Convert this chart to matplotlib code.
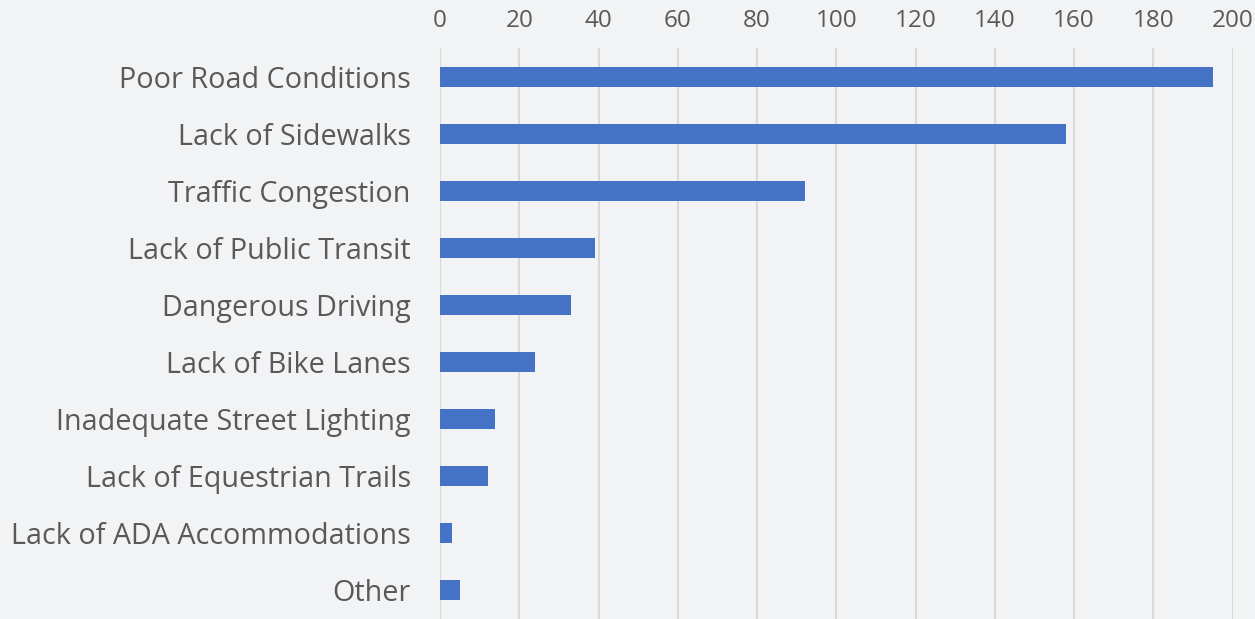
import matplotlib.pyplot as plt

categories = [
    "Poor Road Conditions",
    "Lack of Sidewalks",
    "Traffic Congestion",
    "Lack of Public Transit",
    "Dangerous Driving",
    "Lack of Bike Lanes",
    "Inadequate Street Lighting",
    "Lack of Equestrian Trails",
    "Lack of ADA Accommodations",
    "Other",
]
counts = [195, 158, 92, 39, 33, 24, 14, 12, 3, 5]
xticks = list(range(0, 201, 20))

bg = "#F2F3F5"
text_color = "#595959"

plt.rcParams["font.family"] = ["Open Sans", "DejaVu Sans"]

fig = plt.figure(figsize=(12.55, 6.19), dpi=100, facecolor=bg)
ax = fig.add_axes([440 / 1255, 0, (1232.5 - 440) / 1255, (619 - 48) / 619])
ax.set_facecolor(bg)

ypos = range(len(categories))
ax.barh(ypos, counts, height=0.35, color="#4472C4", zorder=3)

ax.set_ylim(len(categories) - 0.5, -0.5)
ax.set_xlim(0, 200)
ax.set_xticks(xticks)
ax.set_yticks(list(ypos))
ax.set_yticklabels(categories)

ax.xaxis.tick_top()
ax.tick_params(axis="x", length=0, pad=11, labelsize=17.5, labelcolor=text_color)
ax.tick_params(axis="y", length=0, pad=21, labelsize=20.7, labelcolor=text_color)

ax.grid(axis="x", color="#D9D9D9", linewidth=1.5, zorder=0)
for s in ax.spines.values():
    s.set_visible(False)

fig.savefig("out.png", dpi=100, facecolor=bg)
